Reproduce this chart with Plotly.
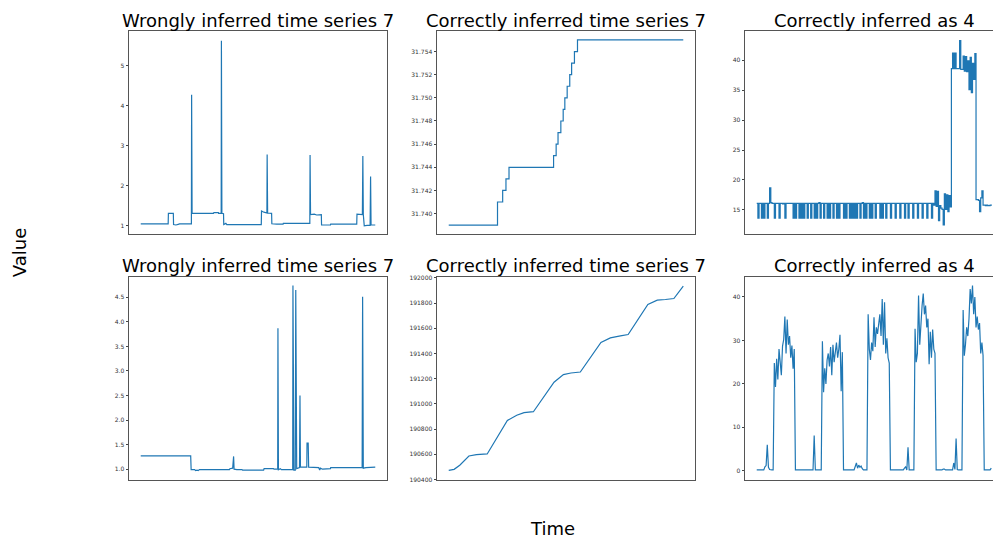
import plotly.graph_objects as go

# ---------------- data ----------------
# top-left: wrongly inferred time series 7
ts1_x = [0, 11.7, 11.8, 13.9, 14.0, 15.0, 16.3, 16.5, 21.6, 21.7, 21.9, 31.0, 31.2, 33.1, 33.2, 34.3, 34.4, 34.6,
         35.3, 35.4, 36.3, 36.7, 51.4, 51.5, 52.5, 53.8, 53.9, 54.1, 55.8, 55.9, 58.0, 60.7, 60.8, 72.1, 72.2, 72.4,
         74.0, 75.0, 77.0, 77.1, 80.9, 81.0, 92.1, 92.2, 94.5, 94.7, 94.9, 95.3, 96.5, 97.8, 98.0, 98.2, 100]
ts1_y = [1.05, 1.05, 1.31, 1.31, 1.03, 1.02, 1.04, 1.05, 1.05, 4.27, 1.31, 1.31, 1.33, 1.33, 1.31, 1.31, 5.62, 1.31,
         1.30, 1.03, 1.06, 1.03, 1.03, 1.37, 1.34, 1.32, 2.78, 1.32, 1.31, 1.05, 1.04, 1.04, 1.06, 1.06, 2.77, 1.28,
         1.29, 1.27, 1.28, 1.02, 1.02, 1.04, 1.04, 1.29, 1.28, 2.74, 1.28, 1.00, 1.01, 1.01, 2.23, 1.02, 1.02]

# top-middle: correctly inferred time series 7 (step series)
ts2_x = [0, 20.8, 23.0, 24.4, 25.7, 44.7, 45.8, 46.6, 47.8, 48.8, 49.5, 50.5, 51.6, 52.4, 53.6, 54.9, 100]
ts2_y = [31.739, 31.741, 31.742, 31.743, 31.744, 31.745, 31.746, 31.747, 31.748, 31.749, 31.750, 31.751,
         31.752, 31.753, 31.754, 31.755, 31.755]

# top-right: correctly inferred as 4 (sampled every 0.5 time units)
ts3_y = [
    16.1, 13.6, 16.1, 16.1, 13.6, 16.1, 13.6, 16.1, 16.1, 13.6,
    16.1, 18.7, 16.2, 16.1, 16.1, 13.6, 16.1, 16.1, 16.1, 13.6,
    16.1, 16.1, 16.0, 16.1, 13.6, 16.1, 16.1, 16.1, 16.1, 16.1,
    16.1, 13.6, 16.1, 13.6, 16.1, 16.1, 13.6, 16.1, 13.6, 16.1,
    13.6, 16.1, 16.1, 13.6, 16.1, 16.1, 13.6, 16.1, 16.1, 13.6,
    16.1, 13.6, 16.1, 16.2, 13.6, 16.1, 16.1, 13.6, 16.1, 16.1,
    13.6, 16.1, 13.6, 16.1, 16.1, 13.6, 16.1, 16.1, 13.6, 16.1,
    13.6, 16.1, 16.1, 16.1, 13.6, 16.1, 13.6, 16.1, 16.1, 13.6,
    16.1, 13.6, 16.1, 13.6, 16.1, 13.6, 16.1, 16.1, 13.6, 16.1,
    16.2, 13.6, 16.1, 13.6, 16.1, 16.1, 13.6, 16.1, 13.6, 16.1,
    16.1, 13.6, 16.1, 16.1, 16.1, 13.6, 16.1, 13.6, 16.1, 16.1,
    13.6, 16.1, 16.1, 16.1, 13.6, 16.1, 16.1, 16.1, 13.6, 16.1,
    16.1, 16.1, 13.6, 16.1, 16.1, 16.1, 13.6, 16.1, 16.1, 13.6,
    16.1, 16.1, 16.1, 13.6, 16.1, 16.1, 16.1, 13.6, 16.1, 16.1,
    16.1, 13.6, 16.1, 16.1, 16.1, 13.6, 16.1, 16.1, 16.1, 13.6,
    16.1, 15.8, 18.2, 15.6, 18.1, 13.2, 15.7, 15.3, 15.1, 12.5,
    17.7, 15.1, 17.5, 14.7, 17.4, 15.5, 38.6, 41.2, 38.6, 41.2,
    38.6, 38.6, 38.6, 43.3, 38.5, 38.5, 40.7, 38.2, 40.6, 38.1,
    39.9, 35.1, 40.5, 34.6, 39.5, 36.8, 41.1, 16.7, 16.7, 16.6,
    14.7, 17.0, 18.2, 15.8, 15.8, 15.7, 15.8, 15.7, 15.7, 15.8,
    15.7]

# bottom-left: wrongly inferred time series 7
ts4_x = [0, 21.3, 21.5, 23.0, 23.4, 24.0, 24.5, 25.0, 37.8, 38.0, 39.2, 39.3, 39.6, 39.8, 41.0, 43.2, 43.4, 52.4,
         52.6, 56.6, 56.8, 58.4, 58.5, 58.7, 59.5, 60.0, 64.8, 64.9, 65.3, 65.9, 66.1, 66.5, 67.7, 67.9, 68.1, 70.8,
         70.9, 71.4, 71.6, 75.9, 76.3, 76.6, 77.5, 80.9, 81.0, 94.4, 94.6, 94.9, 96.0, 97.4, 97.5, 100]
ts4_y = [1.27, 1.27, 0.99, 0.99, 0.97, 0.98, 0.97, 0.99, 0.99, 1.01, 1.02, 1.26, 1.26, 1.00, 0.99, 0.99, 0.98, 0.98,
         1.01, 1.01, 1.00, 1.00, 3.87, 0.99, 1.01, 0.99, 0.99, 4.74, 0.98, 0.98, 4.65, 1.01, 1.03, 2.50, 1.04, 1.04,
         1.53, 1.53, 1.04, 1.03, 0.98, 1.02, 1.00, 1.01, 1.03, 1.03, 4.51, 1.02, 1.03, 1.03, 1.04, 1.04]

# bottom-middle: correctly inferred time series 7
ts5_x = [0, 2.3, 4.7, 8.6, 11.8, 16.4, 25.0, 29.0, 32.1, 36.1, 44.9, 48.9, 52.1, 56.1, 64.9, 68.9, 73.2, 76.5,
         84.9, 88.9, 92.4, 96.0, 100]
ts5_y = [190473, 190481, 190514, 190587, 190598, 190603, 190868, 190910, 190931, 190938, 191172, 191232, 191245,
         191253, 191487, 191524, 191539, 191550, 191789, 191823, 191828, 191836, 191934]

# bottom-right: correctly inferred as 4 (sampled every 0.5 time units)
ts6_y = [
    0.2, 0.2, 0.2, 0.2, 0.2, 0.2, 0.2, 0.9, 1.2, 6.0,
    0.8, 0.3, 0.2, 0.2, 0.2, 24.8, 19.3, 25.8, 21.0, 28.0,
    25.0, 22.0, 28.7, 30.2, 35.5, 27.0, 34.8, 29.0, 31.0, 26.0,
    28.8, 23.5, 28.0, 0.2, 0.2, 0.2, 0.2, 0.2, 0.2, 0.2,
    0.2, 0.2, 0.2, 0.2, 0.2, 0.2, 0.2, 0.2, 0.2, 8.1,
    0.2, 0.2, 0.2, 0.2, 0.2, 0.2, 29.8, 18.1, 23.6, 20.0,
    25.5, 27.0, 24.0, 28.5, 22.0, 29.0, 25.0, 27.5, 29.5, 26.0,
    28.0, 31.3, 18.3, 27.3, 0.2, 0.2, 0.2, 0.2, 0.2, 0.2,
    0.2, 0.2, 0.2, 0.2, 1.0, 1.8, 0.6, 1.3, 0.8, 1.1,
    0.5, 0.2, 0.2, 0.2, 0.2, 36.0, 28.0, 25.5, 29.5, 27.5,
    35.3, 28.5, 33.0, 31.5, 33.5, 36.0, 31.0, 39.5, 29.0, 38.8,
    27.0, 30.5, 26.0, 24.8, 0.2, 0.2, 0.2, 0.2, 0.2, 0.2,
    0.2, 0.2, 0.2, 0.2, 0.2, 0.2, 0.6, 0.9, 0.2, 5.4,
    0.2, 0.2, 0.2, 0.2, 0.2, 32.7, 25.0, 27.0, 40.3, 29.0,
    35.0, 38.0, 40.8, 36.0, 38.0, 33.0, 35.0, 24.5, 32.0, 26.0,
    32.5, 28.0, 27.0, 0.2, 0.2, 0.2, 0.2, 0.2, 0.2, 0.4,
    0.4, 0.2, 0.2, 0.2, 0.2, 0.2, 0.2, 0.2, 1.8, 0.3,
    7.4, 0.3, 0.2, 0.2, 0.2, 0.2, 37.0, 26.5, 29.0, 33.0,
    31.0, 35.0, 41.8, 38.5, 42.6, 36.0, 40.0, 33.0, 35.5, 32.5,
    34.0, 27.0, 29.5, 26.5, 0.2, 0.2, 0.2, 0.2, 0.2, 0.2,
    0.6]
grid_t = [i * 0.5 for i in range(len(ts3_y))]

titles = ["Wrongly inferred time series 7", "Correctly inferred time series 7", "Correctly inferred as 4",
          "Wrongly inferred time series 7", "Correctly inferred time series 7", "Correctly inferred as 4"]

ticks1 = [1, 2, 3, 4, 5]
ticks2 = [31.740, 31.742, 31.744, 31.746, 31.748, 31.750, 31.752, 31.754]
ticks3 = [15, 20, 25, 30, 35, 40]
ticks4 = [1.0, 1.5, 2.0, 2.5, 3.0, 3.5, 4.0, 4.5]
ticks5 = [190400, 190600, 190800, 191000, 191200, 191400, 191600, 191800, 192000]
ticks6 = [0, 10, 20, 30, 40]

# ---------------- layout geometry ----------------
W, H = 993, 543
col_px = [(129, 387), (437, 695), (745, 993)]
row_px = [(28, 234), (277, 482)]
col_center_px = [258, 566, 874]
title_y_px = [18, 265]

yranges = [[0.785, 5.87], [31.7382, 31.7558], [10.9, 44.95],
           [0.786, 4.915], [190399, 192007], [-2.04, 44.6]]
yticks = [ticks1, ticks2, ticks3, ticks4, ticks5, ticks6]
yfmt = ["d", ".3f", "d", ".1f", "d", "d"]

series = [(ts1_x, ts1_y, "linear"), (ts2_x, ts2_y, "hv"), (grid_t, ts3_y, "hv"),
          (ts4_x, ts4_y, "linear"), (ts5_x, ts5_y, "linear"), (grid_t, ts6_y, "linear")]

FONT = "DejaVu Sans"
fig = go.Figure()
layout = dict(width=W, height=H, margin=dict(l=0, r=0, t=0, b=0), paper_bgcolor="white",
              plot_bgcolor="white", showlegend=False, font=dict(family=FONT, color="#222"))
annotations = []
for k in range(6):
    r, c = divmod(k, 3)
    n = "" if k == 0 else str(k + 1)
    x, y, shape = series[k]
    fig.add_trace(go.Scatter(x=x, y=y, mode="lines", line=dict(color="#1f77b4", width=1.2, shape=shape),
                             xaxis="x" + n, yaxis="y" + n, hoverinfo="skip"))
    x0, x1 = col_px[c]
    yt, yb = row_px[r]
    xr = [-5, 105] if c < 2 else [-5, -5 + 110 * (993 - 745) / 258.0]
    layout["xaxis" + n] = dict(domain=[x0 / W, x1 / W], range=xr, showticklabels=False, ticks="",
                              showgrid=False, zeroline=False, showline=True, mirror=True,
                              linecolor="#555", linewidth=1, anchor="y" + n)
    layout["yaxis" + n] = dict(domain=[(H - yb) / H, (H - yt) / H], range=yranges[k], tickvals=yticks[k],
                              tickformat=yfmt[k], ticks="outside", ticklen=2.5, tickwidth=0.8,
                              tickcolor="#444", tickfont=dict(size=6, family=FONT, color="#333"),
                              showgrid=False, zeroline=False, showline=True, mirror=(c < 2),
                              linecolor="#555", linewidth=1, anchor="x" + n)
    annotations.append(dict(text=titles[k], x=col_center_px[c] / W, y=(H - title_y_px[r]) / H,
                            xref="paper", yref="paper", xanchor="center", yanchor="middle",
                            showarrow=False, font=dict(size=18, family=FONT, color="black")))

annotations.append(dict(text="Value", x=19 / W, y=(H - 253) / H, xref="paper", yref="paper",
                        xanchor="center", yanchor="middle", textangle=-90, showarrow=False,
                        font=dict(size=18, family=FONT, color="black")))
annotations.append(dict(text="Time", x=552 / W, y=(H - 531) / H, xref="paper", yref="paper",
                        xanchor="center", yanchor="middle", showarrow=False,
                        font=dict(size=18, family=FONT, color="black")))
layout["annotations"] = annotations
fig.update_layout(**layout)
fig.write_html("out.html", config={"displayModeBar": False},
               post_script="document.body.style.margin='0';document.body.style.padding='0';"
                           "document.body.style.overflow='hidden';")
